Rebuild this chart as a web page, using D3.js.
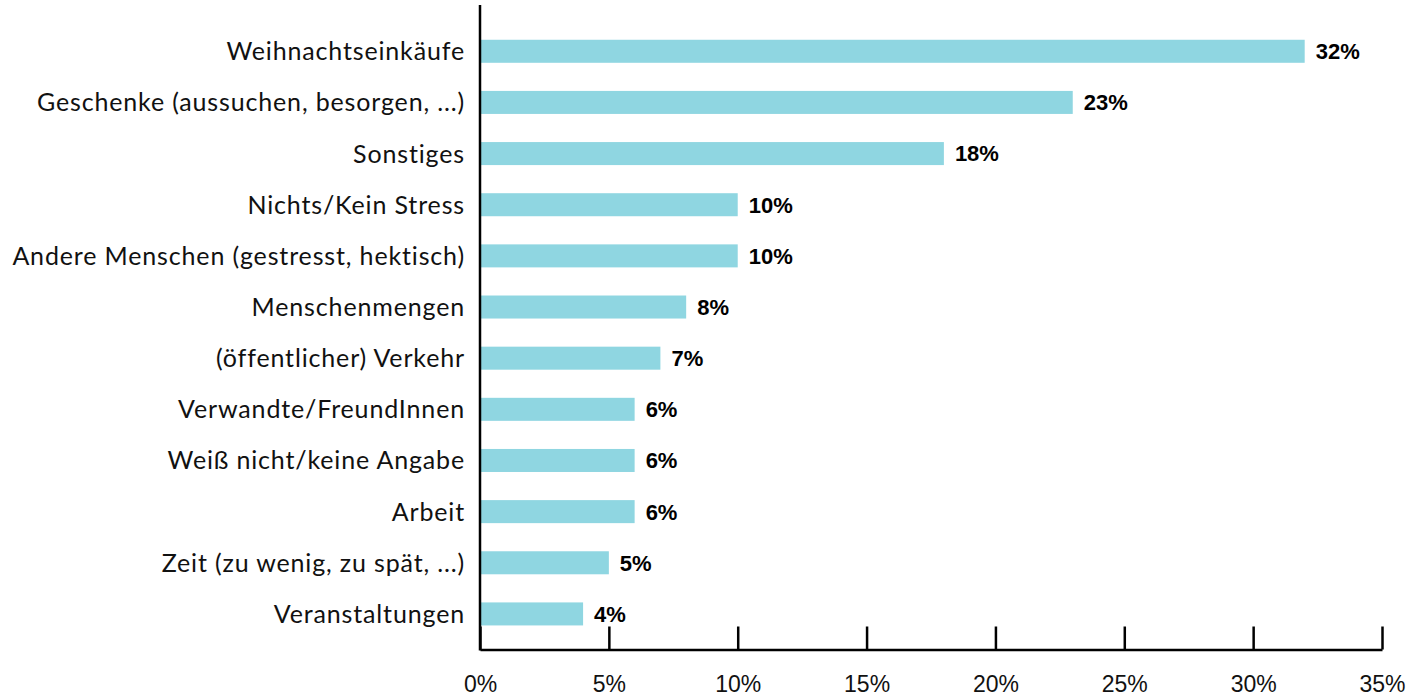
<!DOCTYPE html>
<html><head><meta charset="utf-8">
<script src="https://cdn.jsdelivr.net/npm/d3@7"></script>
<style>body{margin:0;background:#fff}</style>
</head><body>
<svg id="c" width="1410" height="699"></svg>
<script>
const categories = ["Weihnachtseinkäufe","Geschenke (aussuchen, besorgen, ...)","Sonstiges","Nichts/Kein Stress","Andere Menschen (gestresst, hektisch)","Menschenmengen","(öffentlicher) Verkehr","Verwandte/FreundInnen","Weiß nicht/keine Angabe","Arbeit","Zeit (zu wenig, zu spät, ...)","Veranstaltungen"];
const values = [32,23,18,10,10,8,7,6,6,6,5,4];
const ticks = [0,5,10,15,20,25,30,35];

const svg = d3.select("#c");
const x0 = 480, x1 = 1382, yAxis = 649.5;
const x = d3.scaleLinear().domain([0,35]).range([x0,x1]);
const y = d3.scaleBand().domain(categories).range([25.7,639.5]).paddingInner(0.55).paddingOuter(0.275);

svg.append("g").selectAll("rect").data(values).join("rect")
  .attr("x", x(0)).attr("y",(d,i)=>y(categories[i]))
  .attr("width", d=>x(d)-x(0)).attr("height", y.bandwidth())
  .attr("fill","#8fd6e1");

svg.append("g").selectAll("text").data(values).join("text")
  .attr("x", d=>x(d)+11).attr("y",(d,i)=>y(categories[i])+y.bandwidth()/2)
  .attr("dy","0.36em")
  .attr("font-family","Liberation Sans, Arial, sans-serif").attr("font-weight","bold")
  .attr("font-size",22).attr("fill","#000")
  .text(d=>d+"%");

// category labels
svg.append("g").selectAll("text").data(categories).join("text")
  .attr("x", x0-15).attr("y", d=>y(d)+y.bandwidth()/2)
  .attr("dy","0.36em").attr("text-anchor","end")
  .attr("font-family","Lato, sans-serif").attr("font-size",25).attr("letter-spacing","0.85px").attr("fill","#111")
  .text(d=>d);

// y axis line
svg.append("line").attr("x1",x0).attr("x2",x0).attr("y1",5).attr("y2",yAxis+1)
  .attr("stroke","#000").attr("stroke-width",2.5);

// x axis
const xa = svg.append("g").attr("transform",`translate(0,${yAxis})`)
  .call(d3.axisBottom(x).tickValues(ticks).tickSize(-23).tickSizeOuter(0).tickPadding(42).tickFormat(d=>d+"%"));
xa.select(".domain").attr("stroke","#000").attr("stroke-width",2.5);
xa.selectAll(".tick line").attr("stroke","#000").attr("stroke-width",2.5);
xa.selectAll(".tick text").attr("font-family","Liberation Sans, Arial, sans-serif").attr("font-size",23).attr("fill","#111").attr("dy","0");
</script>
</body></html>
